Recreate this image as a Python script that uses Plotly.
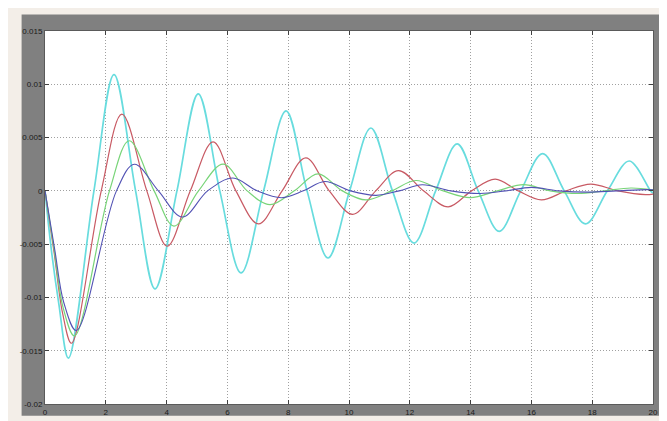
import plotly.graph_objects as go

# ---- data (time in s, value) ----
cyan_t = [0, 0.22, 0.45, 0.77, 1.61, 2.27, 2.98, 3.62, 4.34, 5.04, 5.75, 6.45, 7.19, 7.93, 8.62,
          9.31, 10.02, 10.72, 11.43, 12.14, 12.85, 13.56, 14.25, 14.94, 15.65, 16.37, 17.08,
          17.78, 18.5, 19.22, 19.92, 20]
cyan_v = [0, -0.0058, -0.0105, -0.0157, 0, 0.0109, 0, -0.0092, 0, 0.0091, 0, -0.0077, 0, 0.0075, 0,
          -0.0063, 0, 0.0059, 0, -0.0049, 0, 0.0044, 0, -0.0038, 0, 0.0035, 0,
          -0.0031, 0, 0.0028, 0, -0.0002]

red_t = [0, 0.3, 0.58, 0.87, 1.85, 2.53, 3.35, 4.02, 4.78, 5.53, 6.28, 7.02, 7.8, 8.58, 9.35,
         10.12, 10.88, 11.63, 12.45, 13.26, 14.03, 14.81, 15.57, 16.33, 17.14, 17.95, 18.85,
         19.75, 20]
red_v = [0, -0.0058, -0.0115, -0.0143, 0, 0.0072, 0, -0.0052, 0, 0.0046, 0, -0.0031, 0, 0.0031, 0,
         -0.0022, 0, 0.0019, 0, -0.0015, 0, 0.0011, 0, -0.00085, 0, 0.00064, 0,
         -0.00035, -0.0003]

green_t = [0, 0.3, 0.6, 0.97, 2.12, 2.77, 3.59, 4.24, 5.05, 5.86, 6.65, 7.4, 8.2, 8.98, 9.78,
           10.56, 11.4, 12.2, 13.1, 13.99, 14.88, 15.74, 16.62, 17.53, 18.4, 19.27, 20]
green_v = [0, -0.0055, -0.011, -0.0136, 0, 0.0047, 0, -0.0033, 0, 0.0025, 0, -0.0013, 0, 0.0016, 0,
           -0.00085, 0, 0.00097, 0, -0.00064, 0, 0.00058, 0, -0.00025, 0, 0.00027, 0.0001]

blue_t = [0, 0.32, 0.62, 1.03, 2.35, 2.94, 3.73, 4.52, 5.35, 6.18, 6.98, 7.78, 8.5, 9.2, 10.05,
          10.89, 11.65, 12.41, 13.35, 14.32, 15.15, 16.0, 16.9, 17.86, 18.8, 19.8, 20]
blue_v = [0, -0.0055, -0.0105, -0.0131, 0, 0.0025, 0, -0.00245, 0, 0.0012, 0, -0.00064, 0, 0.00088, 0,
          -0.00042, 0, 0.00057, 0, -0.00025, 0, 0.00033, 0, -0.00012, 0, 0.00012, 0.0001]

x_ticks = [0, 2, 4, 6, 8, 10, 12, 14, 16, 18, 20]
x_labels = [str(v) for v in x_ticks]
y_ticks = [-0.02, -0.015, -0.01, -0.005, 0, 0.005, 0.01, 0.015]
y_labels = ["-0.02", "-0.015", "-0.01", "-0.005", "0", "0.005", "0.01", "0.015"]

series = [
    ("cyan", cyan_t, cyan_v, "#68dcde", 1.7),
    ("red", red_t, red_v, "#c85a64", 1.2),
    ("green", green_t, green_v, "#78d478", 1.2),
    ("blue", blue_t, blue_v, "#5252b4", 1.1),
]

fig = go.Figure()
for name, t, v, col, w in series:
    fig.add_trace(go.Scatter(x=t, y=v, mode="lines", name=name,
                             line=dict(color=col, width=w, shape="spline", smoothing=1.0)))

W, H = 667, 421
L, R, T, B = 34.5, 645, 23, 408
pw, ph = R - L, B - T

def px(x):
    return (x - L) / pw

def py(y):
    return (B - y) / ph

# gray scope frame, then white plotting area on top of it
fig.add_shape(type="rect", xref="paper", yref="paper",
              x0=px(11), x1=px(659), y0=py(420), y1=py(6),
              fillcolor="#808080", line=dict(width=0), layer="below")
fig.add_shape(type="rect", xref="paper", yref="paper",
              x0=0, x1=1, y0=0, y1=1,
              fillcolor="#ffffff", line=dict(width=0), layer="below")

axis_common = dict(showgrid=True, gridcolor="#a0a0a0", griddash="1px,2px", gridwidth=1,
                   zeroline=False, ticks="inside", ticklen=4, tickcolor="#404040",
                   showline=True, linecolor="#5a5a5a", linewidth=1, mirror="allticks",
                   tickfont=dict(family="Liberation Sans", size=8, color="#1a1a1a"))

fig.update_layout(
    width=W, height=H,
    margin=dict(l=L, r=W - R, t=T, b=H - B, pad=0),
    paper_bgcolor="#f3eee8",
    plot_bgcolor="#ffffff",
    showlegend=False,
    xaxis=dict(range=[0, 20], tickvals=x_ticks, ticktext=x_labels, **axis_common),
    yaxis=dict(range=[-0.02, 0.015], tickvals=y_ticks, ticktext=y_labels, **axis_common),
)

fig.write_html("out.html")
